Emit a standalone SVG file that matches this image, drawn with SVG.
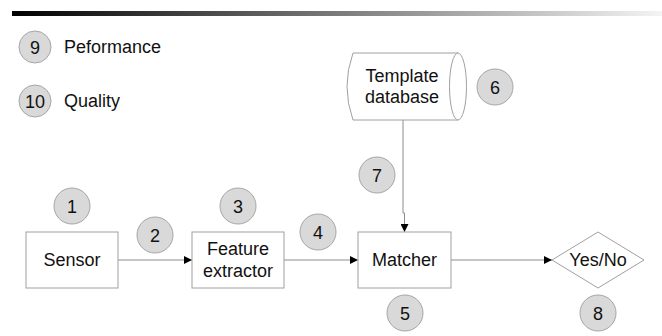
<svg xmlns="http://www.w3.org/2000/svg" width="662" height="336" viewBox="0 0 662 336">
  <defs>
    <linearGradient id="bar" x1="0" y1="0" x2="1" y2="0">
      <stop offset="0" stop-color="#000000"/>
      <stop offset="1" stop-color="#f4f4f4"/>
    </linearGradient>
    <marker id="arr" viewBox="0 0 10 10" refX="10" refY="5" markerWidth="8" markerHeight="8" markerUnits="userSpaceOnUse" orient="auto">
      <path d="M0,0 L10,5 L0,10 Z" fill="#000"/>
    </marker>
    <style>
      text { font-family: "Liberation Sans", Arial, sans-serif; font-size: 18px; fill: #111; }
      .c { text-anchor: middle; }
      .num circle { fill: #d9d9d9; stroke: #a6a6a6; stroke-width: 1; }
      .box { fill: #fff; stroke: #a0a0a0; stroke-width: 1; }
      .conn { fill: none; stroke: #8c8c8c; stroke-width: 1; }
    </style>
  </defs>
  <rect x="12" y="11" width="650" height="5" fill="url(#bar)"/>

  <g id="legend9" class="num">
    <circle cx="35" cy="47" r="16"/>
    <text x="35" y="53.5" class="c">9</text>
    <text x="64" y="53">Peformance</text>
  </g>
  <g id="legend10" class="num">
    <circle cx="35" cy="101" r="16"/>
    <text x="35" y="107.5" class="c">10</text>
    <text x="64" y="107">Quality</text>
  </g>

  <g id="connectors">
    <line class="conn" x1="118" y1="260" x2="192" y2="260" marker-end="url(#arr)"/>
    <line class="conn" x1="284" y1="260" x2="358" y2="260" marker-end="url(#arr)"/>
    <line class="conn" x1="451" y1="260" x2="552" y2="260" marker-end="url(#arr)"/>
    <path class="conn" d="M403,120 V213 H404.5 V232" marker-end="url(#arr)"/>
  </g>

  <g id="sensor">
    <rect class="box" x="26" y="232" width="92" height="56"/>
    <text x="72" y="266" class="c">Sensor</text>
  </g>
  <g id="feature-extractor">
    <rect class="box" x="192" y="232" width="92" height="56"/>
    <text x="238" y="255" class="c">Feature</text>
    <text x="238" y="277" class="c">extractor</text>
  </g>
  <g id="matcher">
    <rect class="box" x="358" y="232" width="93" height="56"/>
    <text x="404.5" y="266" class="c">Matcher</text>
  </g>
  <g id="decision">
    <polygon class="box" points="552,260 598,232 644,260 598,288"/>
    <text x="598" y="266" class="c">Yes/No</text>
  </g>
  <g id="template-database">
    <path class="box" d="M353,53 H458 A8.5,33.5 0 0 1 458,120 H353 Q341,86.5 353,53 Z"/>
    <path class="box" d="M458,53 A8.5,33.5 0 0 0 458,120" fill="none"/>
    <text x="402" y="82" class="c">Template</text>
    <text x="402" y="103" class="c">database</text>
  </g>

  <g id="n1" class="num"><circle cx="72" cy="206" r="18"/><text x="72" y="212.5" class="c">1</text></g>
  <g id="n2" class="num"><circle cx="155" cy="235" r="18"/><text x="155" y="241.5" class="c">2</text></g>
  <g id="n3" class="num"><circle cx="238" cy="206" r="18"/><text x="238" y="212.5" class="c">3</text></g>
  <g id="n4" class="num"><circle cx="318" cy="232" r="18"/><text x="318" y="238.5" class="c">4</text></g>
  <g id="n5" class="num"><circle cx="405" cy="313" r="18"/><text x="405" y="319.5" class="c">5</text></g>
  <g id="n6" class="num"><circle cx="495" cy="87" r="18"/><text x="495" y="93.5" class="c">6</text></g>
  <g id="n7" class="num"><circle cx="377" cy="175" r="18"/><text x="377" y="181.5" class="c">7</text></g>
  <g id="n8" class="num"><circle cx="598" cy="313" r="18"/><text x="598" y="319.5" class="c">8</text></g>
</svg>
